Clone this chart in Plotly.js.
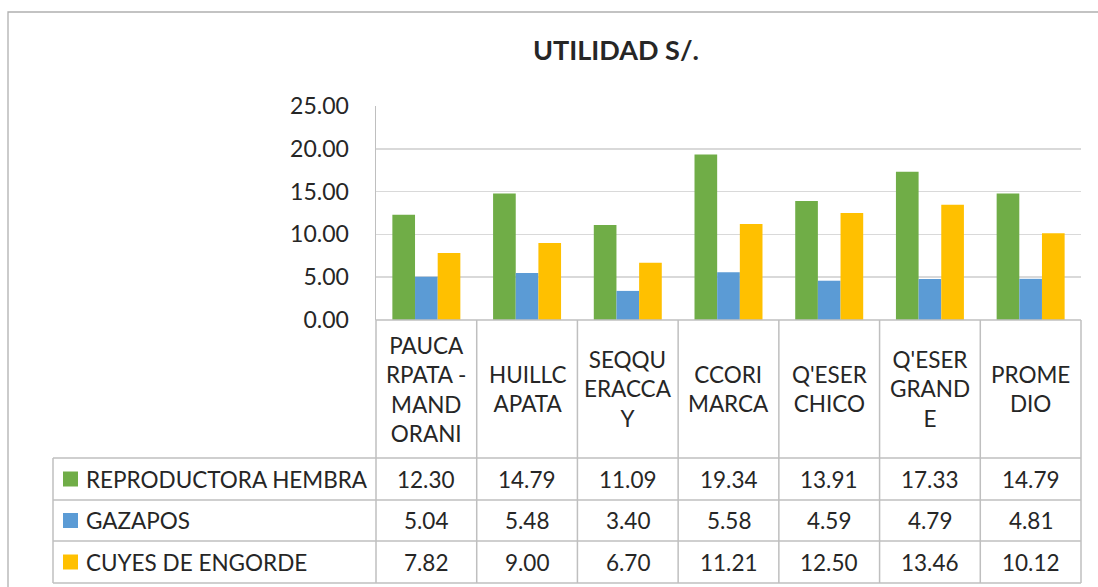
<!DOCTYPE html>
<html>
<head>
<meta charset="utf-8">
<script src="https://cdn.plot.ly/plotly-3.0.1.min.js"></script>
<style>
html,body{margin:0;padding:0;background:#fff;}
#chart{width:1098px;height:587px;}
</style>
</head>
<body>
<div id="chart"></div>
<script>
// ---- data ----
const categories = ["PAUCA<br>RPATA -<br>MAND<br>ORANI", "HUILLC<br>APATA", "SEQQU<br>ERACCA<br>Y", "CCORI<br>MARCA", "Q'ESER<br>CHICO", "Q'ESER<br>GRAND<br>E", "PROME<br>DIO"];
const seriesNames = ["REPRODUCTORA HEMBRA", "GAZAPOS", "CUYES DE ENGORDE"];
const reproductoraHembra = [12.30, 14.79, 11.09, 19.34, 13.91, 17.33, 14.79];
const gazapos = [5.04, 5.48, 3.40, 5.58, 4.59, 4.79, 4.81];
const cuyesEngorde = [7.82, 9.00, 6.70, 11.21, 12.50, 13.46, 10.12];
const yTicks = [0, 5, 10, 15, 20, 25];
const chartTitle = "UTILIDAD S/.";

// ---- styling ----
const colors = ["#70AD47", "#5B9BD5", "#FFC000"];
const FONT = "Lato, 'Open Sans', sans-serif";
const TXT = "#262626";
const LINE = "#BFBFBF";
const seriesValues = [reproductoraHembra, gazapos, cuyesEngorde];
const xIdx = categories.map((c, i) => i);

const traces = seriesValues.map((vals, s) => ({
  type: "bar",
  x: xIdx,
  y: vals,
  name: seriesNames[s],
  marker: {color: colors[s]},
  hoverinfo: "y+name"
}));

// layout geometry (pixel -> paper helpers)
const W = 1098, H = 587;
const mL = 376, mR = 17, mT = 106, mB = 267;
const pw = W - mL - mR, ph = H - mT - mB;
const px = X => (X - mL) / pw;
const py = Y => (H - mB - Y) / ph;

const rowLines = [458, 500, 541, 583];
const rowCenters = [479, 520.5, 562];
const shapes = [];
const annotations = [];

// outer chart border
shapes.push({type: "rect", xref: "paper", yref: "paper", x0: px(8), x1: px(1110), y0: py(12), y1: py(620),
  line: {color: "#B0B0B0", width: 1.3}, fillcolor: "rgba(0,0,0,0)"});

// table horizontal lines
shapes.push({type: "line", xref: "paper", yref: "paper", x0: 0, x1: 1, y0: py(320), y1: py(320), line: {color: LINE, width: 1.5}});
rowLines.forEach(Y => {
  shapes.push({type: "line", xref: "paper", yref: "paper", x0: px(53), x1: 1, y0: py(Y), y1: py(Y), line: {color: LINE, width: 1.5}});
});
// table vertical lines
for (let i = 0; i <= categories.length; i++) {
  const xp = i / categories.length;
  shapes.push({type: "line", xref: "paper", yref: "paper", x0: xp, x1: xp, y0: py(320), y1: py(583), line: {color: LINE, width: 1.5}});
}
shapes.push({type: "line", xref: "paper", yref: "paper", x0: px(53), x1: px(53), y0: py(458), y1: py(583), line: {color: LINE, width: 1.5}});

// category header cells
categories.forEach((c, i) => {
  annotations.push({xref: "x", yref: "paper", x: i, y: py(389), text: c, showarrow: false,
    xanchor: "center", yanchor: "middle", align: "center", font: {family: FONT, size: 22.5, color: TXT}});
});

// legend column + value cells
seriesValues.forEach((vals, s) => {
  const yc = py(rowCenters[s]);
  shapes.push({type: "rect", xref: "paper", yref: "paper", x0: px(63), x1: px(78),
    y0: yc - 7.5 / ph, y1: yc + 7.5 / ph, line: {width: 0}, fillcolor: colors[s]});
  annotations.push({xref: "paper", yref: "paper", x: px(84), y: yc, text: seriesNames[s], showarrow: false,
    xanchor: "left", yanchor: "middle", font: {family: FONT, size: 22.5, color: TXT}});
  vals.forEach((v, i) => {
    annotations.push({xref: "x", yref: "paper", x: i, y: yc, text: v.toFixed(2), showarrow: false,
      xanchor: "center", yanchor: "middle", font: {family: FONT, size: 22.5, color: TXT}});
  });
});

const layout = {
  width: W, height: H,
  margin: {l: mL, r: mR, t: mT, b: mB, pad: 0},
  paper_bgcolor: "#fff", plot_bgcolor: "#fff",
  showlegend: false,
  barmode: "group",
  bargap: 0.325,
  bargroupgap: 0,
  title: {text: "<b>" + chartTitle + "</b>", xref: "container", yref: "container",
    x: 616 / W, y: 1 - 51 / H, xanchor: "center", yanchor: "middle",
    font: {family: FONT, size: 27, color: TXT}},
  xaxis: {range: [-0.5, categories.length - 0.5], showticklabels: false, showgrid: false,
    zeroline: false, showline: false, ticks: "", fixedrange: true},
  yaxis: {range: [0, 25], tickvals: yTicks, ticktext: yTicks.map(v => v.toFixed(2)),
    showgrid: true, gridcolor: "#D9D9D9", gridwidth: 1.5, zeroline: false,
    showline: true, linecolor: LINE, linewidth: 1.5, ticks: "", ticklabelstandoff: 21,
    tickfont: {family: FONT, size: 23, color: TXT}, fixedrange: true},
  shapes: shapes,
  annotations: annotations
};

Plotly.newPlot("chart", traces, layout, {displayModeBar: false, staticPlot: true});
</script>
</body>
</html>
